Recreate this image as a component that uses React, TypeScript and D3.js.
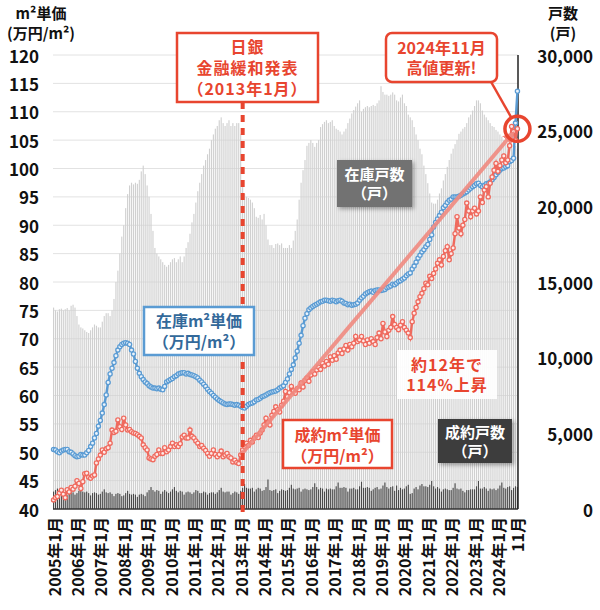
import React from "react";
import * as d3 from "d3";

// ---------- DATA ----------
const startYear = 2005;
const lastMonth = 11; // 2024-11

const leftTicks = [40, 45, 50, 55, 60, 65, 70, 75, 80, 85, 90, 95, 100, 105, 110, 115, 120];
const rightTicks = [0, 5000, 10000, 15000, 20000, 25000, 30000];

// 在庫戸数 (戸)
const inventory = [
  13310, 13130, 13050, 13200, 13240, 13130, 13200, 13280, 13130, 13430, 13500, 13310,
  12750, 12190, 12000, 11930, 11810, 11700, 11630, 11810, 12000, 12190, 12110, 12000,
  12000, 12380, 12750, 12940, 12940, 12750, 13130, 13880, 15000, 15750, 16880, 18000,
  18750, 19880, 20810, 21380, 21560, 21450, 21560, 21490, 21750, 22310, 22690, 22130,
  21380, 20630, 19500, 18380, 17250, 16880, 16690, 16500, 16310, 16130, 16010, 16130,
  16310, 16500, 16580, 16310, 16500, 16690, 16310, 16690, 17250, 17630, 18190, 18940,
  19500, 20250, 21000, 21560, 22130, 22690, 23060, 23440, 23810, 24380, 24750, 25130,
  25310, 25690, 25880, 25500, 25310, 25500, 25690, 25310, 25500, 25310, 25500, 25500,
  24750, 21380, 20810, 20630, 20550, 20440, 20250, 19880, 19310, 19240, 19430, 19130,
  19500, 18750, 17810, 17440, 17440, 17250, 17510, 17550, 17440, 17550, 17250, 17250,
  17250, 17440, 17250, 17740, 18380, 19130, 20440, 21560, 22390, 23060, 24000, 24190,
  24380, 24190, 23930, 24190, 24380, 25240, 25430, 25580, 25690, 25500, 25580, 25690,
  25310, 25130, 25050, 24940, 24750, 24940, 25130, 25500, 25800, 26140, 26360, 26590,
  26810, 27000, 26250, 26440, 26550, 26630, 26550, 26630, 26700, 26630, 26810, 27000,
  27940, 27560, 27380, 27380, 27300, 27380, 27530, 27380, 27000, 26930, 27190, 27380,
  26810, 26630, 26060, 25880, 25690, 25240, 24750, 24380, 23810, 23440, 22690, 22130,
  21530, 20850, 20250, 20180, 20180, 20440, 20850, 21190, 21710, 22130, 22610, 23060,
  23480, 23810, 24110, 24380, 24790, 24940, 25130, 25240, 25500, 25880, 26060, 26330,
  26630, 27000, 27000, 26810, 26330, 26060, 25880, 25690, 25500, 25310, 25240, 25050,
  24940, 24750, 24600, 24380, 24150, 24190, 24380, 24000, 24190, 24000, 23810,
];

// 成約戸数 (戸)
const contracts = [
  1150, 1250, 1350, 1100, 1050, 1150, 1100, 900, 1100, 1150, 1100, 950,
  1050, 1200, 1350, 1150, 1100, 1150, 1050, 900, 1050, 1100, 1050, 950,
  1000, 1150, 1300, 1100, 1050, 1100, 1000, 850, 1000, 1050, 1000, 850,
  900, 1050, 1200, 1000, 950, 1000, 950, 800, 950, 1000, 950, 850,
  1100, 1250, 1450, 1250, 1150, 1250, 1200, 1000, 1150, 1250, 1150, 1050,
  1150, 1300, 1450, 1200, 1100, 1200, 1150, 950, 1100, 1150, 1100, 1000,
  1100, 1250, 1200, 1050, 1050, 1150, 1100, 950, 1050, 1100, 1100, 1000,
  1100, 1250, 1400, 1150, 1100, 1150, 1150, 950, 1050, 1150, 1100, 1000,
  1200, 1400, 1650, 1400, 1350, 1350, 1400, 1150, 1300, 1400, 1350, 1200,
  1250, 1450, 1950, 1250, 1200, 1250, 1300, 1050, 1200, 1300, 1250, 1200,
  1250, 1400, 1600, 1350, 1300, 1350, 1400, 1150, 1300, 1350, 1300, 1250,
  1300, 1450, 1700, 1450, 1300, 1400, 1350, 1150, 1350, 1300, 1350, 1300,
  1300, 1500, 1750, 1400, 1400, 1450, 1400, 1150, 1350, 1350, 1400, 1300,
  1300, 1500, 1800, 1400, 1400, 1450, 1400, 1200, 1300, 1400, 1450, 1300,
  1350, 1550, 1750, 1450, 1350, 1450, 1500, 1200, 1550, 1250, 1400, 1300,
  1350, 1500, 1600, 1000, 1050, 1350, 1450, 1300, 1550, 1650, 1500, 1500,
  1450, 1600, 1850, 1500, 1350, 1450, 1350, 1150, 1300, 1350, 1300, 1250,
  1250, 1400, 1700, 1350, 1300, 1350, 1200, 1100, 1250, 1250, 1300, 1300,
  1300, 1500, 1850, 1350, 1350, 1450, 1350, 1200, 1350, 1300, 1350, 1250,
  1350, 1550, 1750, 1400, 1350, 1450, 1500, 1250, 1400, 1500, 1450,
];

// 在庫m²単価 (万円/m²)
const stockPrice = [
  50.5, 50.4, 50.1, 49.9, 50.2, 50.4, 50.5, 50.5, 50.1, 50.0, 49.7, 49.4,
  49.2, 49.3, 49.6, 49.5, 49.5, 49.9, 50.3, 51.0, 51.6, 52.5, 53.3, 54.6,
  55.6, 56.9, 58.4, 60.1, 62.3, 63.8, 64.8, 65.8, 67.0, 68.0, 68.6, 69.0,
  69.2, 69.3, 69.2, 69.0, 68.0, 67.3, 66.0, 64.8, 63.9, 63.3, 62.8, 62.4,
  62.1, 61.7, 61.5, 61.3, 61.3, 61.2, 61.3, 61.1, 61.0, 61.6, 62.4, 62.6,
  62.8, 63.0, 63.3, 63.5, 63.8, 63.9, 64.0, 64.0, 63.8, 63.9, 63.7, 63.6,
  63.5, 63.3, 63.1, 62.7, 62.4, 62.0, 61.6, 61.1, 60.7, 60.4, 60.0, 59.7,
  59.4, 59.1, 58.9, 58.7, 58.5, 58.4, 58.5, 58.5, 58.4, 58.3, 58.4, 58.3,
  58.1, 57.9, 57.8, 58.1, 58.4, 58.6, 58.7, 58.9, 59.2, 59.3, 59.5, 59.8,
  59.9, 60.1, 60.3, 60.5, 60.6, 60.7, 60.8, 61.0, 61.3, 61.5, 61.7, 62.3,
  62.9, 63.8, 64.6, 65.4, 66.6, 67.8, 69.2, 70.6, 72.3, 73.6, 74.4, 75.1,
  75.4, 75.7, 75.9, 76.1, 76.3, 76.5, 76.6, 76.8, 76.8, 76.7, 76.6, 76.8,
  76.7, 76.5, 76.7, 76.8, 76.6, 76.3, 76.2, 76.0, 76.1, 75.9, 76.0, 76.1,
  76.3, 76.8, 77.2, 77.5, 77.9, 78.1, 78.3, 78.4, 78.2, 78.5, 78.6, 78.6,
  78.5, 78.6, 78.7, 79.0, 79.1, 79.3, 79.6, 79.5, 79.8, 80.1, 80.2, 80.5,
  80.7, 81.1, 81.4, 81.6, 82.3, 82.8, 83.5, 84.2, 84.7, 85.3, 85.7, 86.2,
  86.6, 87.5, 88.3, 89.7, 90.5, 91.1, 91.7, 92.3, 93.1, 93.5, 94.0, 94.4,
  94.6, 95.0, 95.0, 95.0, 95.1, 95.3, 95.5, 95.7, 95.9, 96.2, 96.5, 96.8,
  97.0, 97.3, 97.4, 97.0, 96.8, 97.0, 97.3, 97.4, 97.6, 98.0, 98.4, 98.9,
  99.3, 99.7, 100.0, 100.1, 100.3, 100.5, 101.2, 101.4, 101.8, 108.0, 113.6,
];

// 成約m²単価 (万円/m²)
const dealPrice = [
  41.6, 42.0, 42.2, 42.8, 43.3, 42.6, 42.0, 43.4, 43.0, 43.8, 43.5, 44.0,
  45.0, 44.5, 43.6, 44.8, 46.2, 46.3, 45.6, 45.4, 45.8, 46.0, 48.1, 48.8,
  49.5, 50.4, 50.0, 50.6, 50.8, 51.6, 53.9, 53.5, 53.7, 55.7, 54.5, 54.0,
  56.0, 54.8, 53.9, 54.0, 53.6, 53.4, 53.3, 53.1, 52.8, 52.5, 51.3, 50.8,
  50.4, 49.0, 48.8, 48.7, 49.3, 49.6, 50.4, 49.8, 49.8, 50.8, 50.1, 50.4,
  51.0, 51.6, 51.0, 51.3, 51.0, 51.5, 52.7, 53.0, 52.5, 52.5, 53.9, 52.8,
  52.5, 52.0, 51.6, 51.0, 51.2, 50.7, 50.3, 49.8, 49.3, 49.8, 50.4, 49.6,
  49.2, 49.6, 50.2, 49.2, 49.5, 49.8, 49.2, 49.0, 48.3, 48.6, 48.2, 48.0,
  49.5, 50.4, 51.0, 51.6, 51.2, 52.1, 51.8, 52.5, 53.0, 52.6, 53.4, 53.9,
  54.8, 56.0, 55.2, 54.8, 56.5, 57.2, 58.0, 57.5, 57.1, 58.3, 59.0, 60.7,
  59.8, 60.5, 61.6, 60.8, 60.4, 61.2, 61.0, 62.2, 61.5, 62.7, 63.1, 62.5,
  63.6, 64.2, 63.8, 64.5, 65.0, 64.6, 65.7, 65.2, 66.0, 65.5, 66.8, 66.2,
  67.0, 66.4, 67.5, 68.0, 67.4, 68.2, 68.8, 68.0, 69.0, 68.6, 69.2, 70.4,
  69.5, 69.8, 70.4, 69.6, 69.0, 69.8, 69.2, 70.0, 69.5, 69.0, 70.2, 71.0,
  70.0, 72.7, 71.2, 70.4, 71.5, 72.0, 73.9, 72.5, 72.0, 71.6, 72.4, 73.0,
  72.0, 71.5, 71.0, 70.2, 73.0, 74.5, 75.5, 76.5, 77.4, 78.0, 78.8, 79.8,
  79.5, 81.0, 80.6, 81.5, 82.3, 83.3, 83.9, 83.0, 84.5, 85.5, 86.2, 83.9,
  85.0, 86.0, 88.5, 91.5, 89.5, 88.5, 90.0, 91.0, 93.9, 92.5, 91.5, 92.5,
  93.0, 92.0, 92.5, 95.0, 94.0, 96.2, 96.8, 95.0, 97.4, 98.5, 99.7, 100.9,
  99.5, 100.5, 101.5, 102.2, 101.0, 101.5, 104.0, 107.4, 106.5, 105.0, 107.0,
];

// month categories
const months: { y: number; m: number }[] = [];
for (let y = startYear; y <= 2024; y++) {
  for (let m = 1; m <= 12; m++) {
    if (y === 2024 && m > lastMonth) break;
    months.push({ y, m });
  }
}
const tickLabel = (d: { y: number; m: number }, i: number) =>
  d.m === 1 ? `${d.y}年1月` : i === months.length - 1 ? `${d.m}月` : null;

const policyIndex = months.findIndex((d) => d.y === 2013 && d.m === 1);

// ---------- STYLE ----------
const FONT = "'Noto Sans CJK JP', 'Noto Sans', sans-serif";
const RED = "#e8452f";
const RED_LINE = "#ef6a5e";
const BLUE_LINE = "#5a9bd3";
const BLUE_TEXT = "#33699a";

export default function App() {
  const W = 600;
  const H = 610;
  const left = 53;
  const right = 518;
  const top = 55;
  const bottom = 509;

  const x = d3
    .scaleBand<number>()
    .domain(d3.range(months.length))
    .range([left, right])
    .paddingInner(0.42);
  const xc = (i: number) => (x(i) as number) + x.bandwidth() / 2;
  const yL = d3.scaleLinear().domain([40, 120]).range([bottom, top]);
  const yR = d3.scaleLinear().domain([0, 30000]).range([bottom, top]);

  const line = d3
    .line<number>()
    .x((_, i) => xc(i))
    .y((d) => yL(d));

  const last = months.length - 1;
  const trendX1 = xc(policyIndex);
  const trendY1 = yL(dealPrice[policyIndex]);
  const trendX2 = xc(last);
  const trendY2 = yL(dealPrice[last]);
  const dashX = xc(policyIndex) + 2;

  const boxText = (
    lines: string[],
    cx: number,
    y0: number,
    lh: number,
    color: string,
    size: number,
    spacing = 0
  ) => (
    <text
      textAnchor="middle"
      fill={color}
      fontSize={size}
      fontWeight="bold"
      fontFamily={FONT}
      letterSpacing={spacing}
    >
      {lines.map((t, k) => (
        <tspan key={k} x={cx} y={y0 + k * lh + size * 0.36}>
          {t}
        </tspan>
      ))}
    </text>
  );

  return (
    <div style={{ position: "fixed", left: 0, top: 0 }}>
      <svg width={W} height={H} viewBox={`0 0 ${W} ${H}`} style={{ display: "block", background: "#fff" }}>
        <defs>
          <filter id="shadow" x="-20%" y="-20%" width="150%" height="150%">
            <feDropShadow dx="2" dy="2" stdDeviation="2" floodColor="#000" floodOpacity="0.35" />
          </filter>
          <marker id="arrow" viewBox="0 0 10 10" refX="6" refY="5" markerWidth="3" markerHeight="3" orient="auto">
            <path d="M0,0 L10,5 L0,10 z" fill="#f08a80" />
          </marker>
        </defs>

        {/* gridlines */}
        {leftTicks.slice(1).map((t) => (
          <line key={t} x1={left} x2={right} y1={yL(t)} y2={yL(t)} stroke="#e2e2e2" strokeWidth={1} />
        ))}

        {/* inventory bars */}
        {inventory.map((v, i) => (
          <rect key={"i" + i} x={x(i)} y={yR(v)} width={x.bandwidth()} height={bottom - yR(v)} fill="#d0d0d0" />
        ))}
        {/* contract bars */}
        {contracts.map((v, i) => (
          <rect key={"c" + i} x={x(i)} y={yR(v)} width={x.bandwidth()} height={bottom - yR(v)} fill="#4a4a4a" />
        ))}

        {/* axes lines */}
        <line x1={left} x2={right} y1={bottom} y2={bottom} stroke="#333" strokeWidth={1.5} />
        <line x1={right} x2={right} y1={top} y2={bottom} stroke="#222" strokeWidth={1.5} />

        {/* stock price line */}
        <path d={line(stockPrice) || ""} fill="none" stroke={BLUE_LINE} strokeWidth={2.4} />
        {stockPrice.map((v, i) => (
          <circle key={"sb" + i} cx={xc(i)} cy={yL(v)} r={2.1} fill="#eaf3fb" stroke={BLUE_LINE} strokeWidth={1.3} />
        ))}

        {/* deal price line */}
        <path d={line(dealPrice) || ""} fill="none" stroke={RED_LINE} strokeWidth={2.4} />
        {dealPrice.map((v, i) => (
          <circle key={"sr" + i} cx={xc(i)} cy={yL(v)} r={2.1} fill="#fde9e7" stroke={RED_LINE} strokeWidth={1.3} />
        ))}

        {/* trend line */}
        <line
          x1={trendX1}
          y1={trendY1}
          x2={trendX2 - 6}
          y2={trendY2 + 6}
          stroke="#f08a80"
          strokeOpacity={0.9}
          strokeWidth={4}
          markerEnd="url(#arrow)"
        />

        {/* policy dashed line */}
        <line x1={dashX} x2={dashX} y1={102} y2={bottom + 4} stroke={RED} strokeWidth={4} strokeDasharray="7,6" />

        {/* ---- annotations ---- */}
        {/* BOJ box */}
        <rect x={177} y={33} width={141} height={69} fill="#fff" stroke={RED} strokeWidth={2.5} />
        {boxText(["日銀", "金融緩和発表", "（2013年1月）"], 247.5, 47, 21, RED, 16, 1)}

        {/* 2024 callout */}
        <line x1={490} y1={80} x2={trendX2 - 6} y2={trendY2 - 11} stroke={RED} strokeWidth={2.5} />
        <rect x={386} y={33} width={111} height={49} rx={6} fill="#fff" stroke={RED} strokeWidth={2.5} />
        {boxText(["2024年11月", "高値更新!"], 441.5, 48, 20, RED, 16)}
        <circle cx={trendX2} cy={trendY2} r={12.5} fill="none" stroke={RED} strokeWidth={3.5} />

        {/* stock price label */}
        <rect x={144} y={307} width={110} height={48} fill="#fff" stroke={BLUE_LINE} strokeWidth={2.5} />
        {boxText(["在庫m²単価", "（万円/m²）"], 199, 321, 21, BLUE_TEXT, 16)}

        {/* inventory label */}
        <rect x={337} y={160} width={75} height={47} fill="#727272" filter="url(#shadow)" />
        {boxText(["在庫戸数", "（戸）"], 374.5, 175, 19, "#fff", 15)}

        {/* deal price label */}
        <rect x={283} y={420} width={109} height={48} fill="#fff" stroke={RED} strokeWidth={2.5} />
        {boxText(["成約m²単価", "（万円/m²）"], 337.5, 435, 21, RED, 16)}

        {/* growth note */}
        <rect x={397} y={350} width={100} height={49} fill="#fff" fillOpacity={0.9} />
        {boxText(["約12年で", "114%上昇"], 447, 365, 20, RED, 16, 1)}

        {/* contracts label */}
        <rect x={438} y={419} width={74} height={44} fill="#3d3d3d" filter="url(#shadow)" />
        {boxText(["成約戸数", "（戸）"], 475, 433, 19, "#fff", 15)}

        {/* left axis */}
        {leftTicks.map((t) => (
          <text
            key={"l" + t}
            x={39}
            y={yL(t)}
            textAnchor="end"
            dominantBaseline="central"
            fontSize={17}
            fontWeight="bold"
            fontFamily={FONT}
            fill="#111"
          >
            {t}
          </text>
        ))}
        {boxText(["m²単価", "(万円/m²)"], 41, 14, 20, "#111", 15)}

        {/* right axis */}
        {rightTicks.map((t) => (
          <text
            key={"r" + t}
            x={593}
            y={yR(t)}
            textAnchor="end"
            dominantBaseline="central"
            fontSize={17}
            fontWeight="bold"
            fontFamily={FONT}
            fill="#111"
          >
            {d3.format(",")(t)}
          </text>
        ))}
        {boxText(["戸数", "(戸)"], 563, 14, 20, "#111", 15)}

        {/* x axis labels */}
        {months.map((d, i) => {
          const lab = tickLabel(d, i);
          if (!lab) return null;
          return (
            <text
              key={"x" + i}
              transform={`translate(${xc(i)},${bottom + 8}) rotate(-90)`}
              textAnchor="end"
              dominantBaseline="central"
              fontSize={16}
              fontWeight="bold"
              fontFamily={FONT}
              fill="#111"
            >
              {lab}
            </text>
          );
        })}
      </svg>
    </div>
  );
}
